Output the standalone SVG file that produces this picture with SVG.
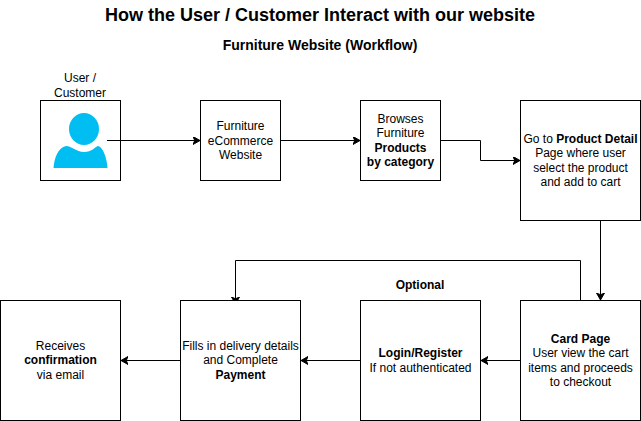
<svg xmlns="http://www.w3.org/2000/svg" width="641" height="421" viewBox="0 0 641 421">
<style>
text{font-family:"Liberation Sans",Arial,sans-serif;font-size:12px;fill:#000;text-anchor:middle}
.b{font-weight:bold}
.box{fill:#fff;stroke:#000;stroke-width:1}
.c{fill:none;stroke:#000;stroke-width:1;marker-end:url(#arrow)}
</style>
<defs>
<marker id="arrow" markerUnits="userSpaceOnUse" markerWidth="9" markerHeight="9" refX="7" refY="4" orient="auto">
<path d="M0 0L7 4L0 8L1.75 4Z" fill="#000" stroke="#000" stroke-width="1"/>
</marker>
</defs>
<rect width="641" height="421" fill="#fff"/>
<text x="320" y="21" class="b" style="font-size:18px">How the User / Customer Interact with our website</text>
<text x="320" y="50" class="b" style="font-size:14px">Furniture Website (Workflow)</text>
<g id="connectors">
<path class="c" d="M107 140.500H200"/>
<path class="c" d="M280.500 140.500H360"/>
<path class="c" d="M440.500 140.500H480.500V160.500H520"/>
<path class="c" d="M600.500 220.500V300"/>
<path class="c" d="M580.500 300.500V260.500H235.500V304"/>
<path class="c" d="M520.500 360.500H481"/>
<path class="c" d="M360.500 360.500H301"/>
<path class="c" d="M180.500 360.500H121"/>
</g>
<g id="node-user">
<rect x="40.500" y="100.500" width="80" height="80" fill="none" stroke="#000"/>
<ellipse cx="84" cy="129" rx="15" ry="16" fill="#00bef2"/>
<path d="M53.500 168C54.500 157 58 148 66 146C72 146 76 152 84 152C92 152 95 147 98 146C103 147 107 158 107.500 168Z" fill="#00bef2"/>
<text x="80" y="82">User /</text>
<text x="80" y="97">Customer</text>
</g>
<g id="node-website">
<rect class="box" x="200.500" y="100.500" width="80" height="80"/>
<text x="240.500" y="130">Furniture</text>
<text x="240.500" y="145">eCommerce</text>
<text x="240.500" y="159">Website</text>
</g>
<g id="node-browse">
<rect class="box" x="360.500" y="100.500" width="80" height="80"/>
<text x="400.500" y="123">Browses</text>
<text x="400.500" y="137">Furniture</text>
<text x="400.500" y="152" class="b">Products</text>
<text x="400.500" y="166" class="b">by category</text>
</g>
<g id="node-product">
<rect class="box" x="520.500" y="100.500" width="120" height="120"/>
<text x="580.500" y="143">Go to <tspan class="b">Product Detail</tspan></text>
<text x="580.500" y="157">Page where user</text>
<text x="580.500" y="172">select the product</text>
<text x="580.500" y="186">and add to cart</text>
</g>
<g id="node-cart">
<rect class="box" x="520.500" y="300.500" width="120" height="120"/>
<text x="580.500" y="343" class="b">Card Page</text>
<text x="580.500" y="357">User view the cart</text>
<text x="580.500" y="372">items and proceeds</text>
<text x="580.500" y="386">to checkout</text>
</g>
<g id="node-login">
<rect class="box" x="360.500" y="300.500" width="120" height="120"/>
<text x="420.500" y="357" class="b">Login/Register</text>
<text x="420.500" y="372">If not authenticated</text>
</g>
<g id="node-payment">
<rect class="box" x="180.500" y="300.500" width="120" height="120"/>
<text x="240.500" y="350">Fills in delivery details</text>
<text x="240.500" y="364">and Complete</text>
<text x="240.500" y="379" class="b">Payment</text>
</g>
<g id="node-confirm">
<rect class="box" x="0.500" y="300.500" width="120" height="120"/>
<text x="60.500" y="350">Receives</text>
<text x="60.500" y="364" class="b">confirmation</text>
<text x="60.500" y="379">via email</text>
</g>
<text x="420" y="289" class="b">Optional</text>
</svg>
